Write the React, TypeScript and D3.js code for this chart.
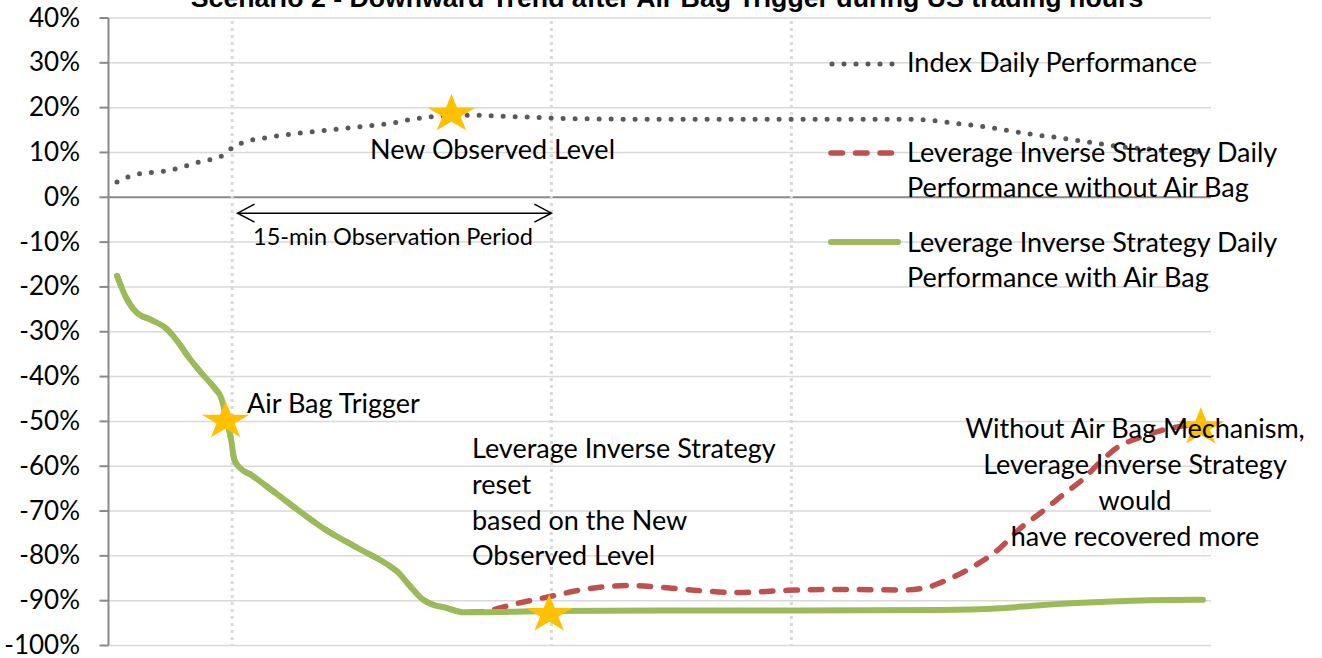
import React from "react";
import * as d3 from "d3";

// ---------- data ----------
const yTicks = [40, 30, 20, 10, 0, -10, -20, -30, -40, -50, -60, -70, -80, -90, -100];

const indexT = [0, 1, 2.2, 4.3, 5.5, 7.6, 9.8, 10.7, 11.7, 14, 16.4, 18.3, 20.6, 22.9, 25.2, 27.4, 29.7, 33.1, 35.4, 38.7, 40.8, 50, 61.7, 73.3, 74.9, 77.2, 80.3, 83.8, 87.3, 90.4, 92.7, 96, 100];
const indexV = [3.4, 4.5, 5.3, 5.8, 6.4, 7.9, 9.4, 11.2, 12.3, 13.4, 14.2, 14.7, 15.3, 15.9, 16.5, 17.5, 18.1, 18.3, 18.1, 17.8, 17.6, 17.4, 17.4, 17.4, 17.2, 16.5, 15.6, 14.2, 13.1, 12, 11.2, 10.6, 10];

const withoutT = [0, 0.8, 1.8, 3.2, 4.5, 5.5, 6.6, 7.8, 9.0, 9.6, 10.1, 10.5, 10.8, 11.3, 12.4, 14.5, 16.4, 19.1, 22.2, 25.2, 25.8, 27.0, 28.2, 29.0, 30.3, 31.9, 33.8, 36.5, 39.6, 43.5, 47.3, 50, 53.9, 57, 61.7, 66.3, 72.6, 74.5, 76.4, 78.7, 81.1, 83.1, 85, 87.3, 88.9, 90.4, 92, 94.3, 96.2, 98.2, 100];
const withoutV = [-17.5, -22.2, -25.7, -27.4, -29.2, -31.9, -35.7, -39.3, -42.6, -44.8, -49.5, -54, -58.5, -60.3, -62, -65.8, -69.3, -74, -78.3, -82.4, -83.5, -86.8, -89.8, -90.8, -91.6, -92.6, -92.4, -90.8, -89.2, -87.3, -86.6, -87, -87.8, -88.2, -87.7, -87.5, -87.6, -87.1, -85.4, -82.6, -78.7, -74, -70.5, -66, -63, -59.4, -56, -53.5, -52, -51, -50.5];

const withT = [0, 0.8, 1.8, 3.2, 4.5, 5.5, 6.6, 7.8, 9.0, 9.6, 10.1, 10.5, 10.8, 11.3, 12.4, 14.5, 16.4, 19.1, 22.2, 25.2, 25.8, 27.0, 28.2, 29.0, 30.3, 31.9, 35.7, 39.9, 50, 62.9, 75.8, 81.3, 85, 90.5, 95.1, 100];
const withV = [-17.5, -22.2, -25.7, -27.4, -29.2, -31.9, -35.7, -39.3, -42.6, -44.8, -49.5, -54, -58.5, -60.3, -62, -65.8, -69.3, -74, -78.3, -82.4, -83.5, -86.8, -89.8, -90.8, -91.6, -92.6, -92.5, -92.3, -92.2, -92.2, -92.1, -91.7, -91, -90.3, -89.9, -89.8];

const starT = [10.0, 30.8, 39.8, 99.8];
const starV = [-49.5, 19.0, -92.6, -50.9];

const eventT = [10.6, 40, 62.1];

const legendLabels = [
  ["Index Daily Performance"],
  ["Leverage Inverse Strategy Daily", "Performance without Air Bag"],
  ["Leverage Inverse Strategy Daily", "Performance with Air Bag"],
];

const title = "Scenario 2 - Downward Trend after Air Bag Trigger during US trading hours";

// ---------- layout ----------
const W = 1322;
const H = 658;
const plotLeft = 108.5;
const plotRight = 1211;
const plotTop = 18;
const plotBottom = 645.5;
const FONT = "Lato, 'Open Sans', sans-serif";

const C_GRID = "#D9D9D9";
const C_AXIS = "#898989";
const C_INDEX = "#595959";
const C_RED = "#C0504D";
const C_GREEN = "#9BBB59";
const C_STAR = "#FFC000";

function starPath(cx: number, cy: number, rx: number, ry: number) {
  const pts: string[] = [];
  const inner = 0.382;
  const oy = cy + 0.095 * ry;
  for (let i = 0; i < 10; i++) {
    const a = -Math.PI / 2 + (i * Math.PI) / 5;
    const r = i % 2 === 0 ? 1 : inner;
    pts.push(`${cx + Math.cos(a) * r * rx},${oy + Math.sin(a) * r * ry}`);
  }
  return "M" + pts.join("L") + "Z";
}

export default function App() {
  const x = d3.scaleLinear().domain([0, 100]).range([plotLeft + 8.5, plotRight - 8]);
  const y = d3.scaleLinear().domain([-100, 40]).range([plotBottom, plotTop]);

  const line = d3
    .line<[number, number]>()
    .x((d) => x(d[0]))
    .y((d) => y(d[1]))
    .curve(d3.curveMonotoneX);

  const idx = indexT.map((t, i) => [t, indexV[i]] as [number, number]);
  const wo = withoutT.map((t, i) => [t, withoutV[i]] as [number, number]);
  const wi = withT.map((t, i) => [t, withV[i]] as [number, number]);

  const fs = 27;
  const tfs = 26;
  const legX = 828;
  const legTextX = 907;
  const legBase = [72, 162, 252];
  const arrowV = -3.55;

  return (
    <svg
      width={W}
      height={H}
      style={{ position: "absolute", left: 0, top: 0, background: "#fff" }}
      fontFamily={FONT}
    >
      <rect x={0} y={0} width={W} height={H} fill="#fff" />
      {/* horizontal gridlines */}
      {yTicks.map((v) => (
        <line
          key={"g" + v}
          x1={plotLeft}
          x2={plotRight}
          y1={y(v)}
          y2={y(v)}
          stroke={v === 0 ? C_AXIS : C_GRID}
          strokeWidth={v === 0 ? 2 : 1.5}
        />
      ))}
      {/* vertical event lines */}
      {eventT.map((t) => (
        <line
          key={"e" + t}
          x1={x(t)}
          x2={x(t)}
          y1={plotTop + 3}
          y2={plotBottom}
          stroke={C_GRID}
          strokeWidth={3}
          strokeDasharray="3 4"
        />
      ))}
      {/* y axis */}
      <line x1={plotLeft} x2={plotLeft} y1={plotTop} y2={plotBottom} stroke={C_AXIS} strokeWidth={2} />
      {yTicks.map((v) => (
        <g key={"t" + v}>
          <line x1={plotLeft - 9} x2={plotLeft} y1={y(v)} y2={y(v)} stroke={C_AXIS} strokeWidth={2} />
          <text x={80} y={y(v) + 8.5} fontSize={tfs} textAnchor="end" fill="#000">
            {v + "%"}
          </text>
        </g>
      ))}

      {/* series */}
      <path
        d={line(idx) || ""}
        fill="none"
        stroke={C_INDEX}
        strokeWidth={5}
        strokeLinecap="round"
        strokeDasharray="0 12"
      />
      <path
        d={line(wo) || ""}
        fill="none"
        stroke={C_RED}
        strokeWidth={5.5}
        strokeLinecap="round"
        strokeDasharray="11.5 13"
      />
      <path d={line(wi) || ""} fill="none" stroke={C_GREEN} strokeWidth={6} strokeLinecap="round" strokeLinejoin="round" />

      {/* arrow */}
      <g stroke="#000" strokeWidth={1.5} fill="none">
        <line x1={x(11.1)} x2={x(40)} y1={y(arrowV)} y2={y(arrowV)} />
        <polyline points={`${x(11.1) + 17},${y(arrowV) - 9} ${x(11.1)},${y(arrowV)} ${x(11.1) + 17},${y(arrowV) + 9}`} />
        <polyline points={`${x(40) - 17},${y(arrowV) - 9} ${x(40)},${y(arrowV)} ${x(40) - 17},${y(arrowV) + 9}`} />
      </g>

      {/* stars */}
      {starT.map((t, i) => (
        <path key={"s" + i} d={starPath(x(t), y(starV[i]), 25, 20)} fill={C_STAR} />
      ))}

      {/* annotations */}
      <text x={370} y={159} fontSize={fs}>New Observed Level</text>
      <text x={253} y={245} fontSize={23.5}>15-min Observation Period</text>
      <text x={247} y={413} fontSize={fs}>Air Bag Trigger</text>
      <text fontSize={fs}>
        {["Leverage Inverse Strategy", "reset", "based on the New", "Observed Level"].map((s, i) => (
          <tspan key={i} x={472} y={458 + i * 35.8}>
            {s}
          </tspan>
        ))}
      </text>
      <text fontSize={fs} textAnchor="middle">
        {["Without Air Bag Mechanism,", "Leverage Inverse Strategy", "would", "have recovered more"].map((s, i) => (
          <tspan key={i} x={1135} y={438 + i * 36}>
            {s}
          </tspan>
        ))}
      </text>

      {/* legend */}
      <line x1={legX + 4} x2={legX + 66} y1={legBase[0] - 8} y2={legBase[0] - 8} stroke={C_INDEX} strokeWidth={5} strokeLinecap="round" strokeDasharray="0 12" />
      <line x1={legX + 3} x2={legX + 67} y1={legBase[1] - 9} y2={legBase[1] - 9} stroke={C_RED} strokeWidth={5.5} strokeLinecap="round" strokeDasharray="11.5 13" />
      <line x1={legX + 3} x2={legX + 70} y1={legBase[2] - 10} y2={legBase[2] - 10} stroke={C_GREEN} strokeWidth={6} strokeLinecap="round" />
      {legendLabels.map((lines, i) => (
        <text key={"l" + i} fontSize={fs}>
          {lines.map((s, j) => (
            <tspan key={j} x={legTextX} y={legBase[i] + j * 35}>
              {s}
            </tspan>
          ))}
        </text>
      ))}

      {/* title */}
      <text x={667} y={7} fontSize={26.7} fontWeight="bold" fontFamily="'Liberation Sans', Arial, sans-serif" textAnchor="middle">
        {title}
      </text>
    </svg>
  );
}
